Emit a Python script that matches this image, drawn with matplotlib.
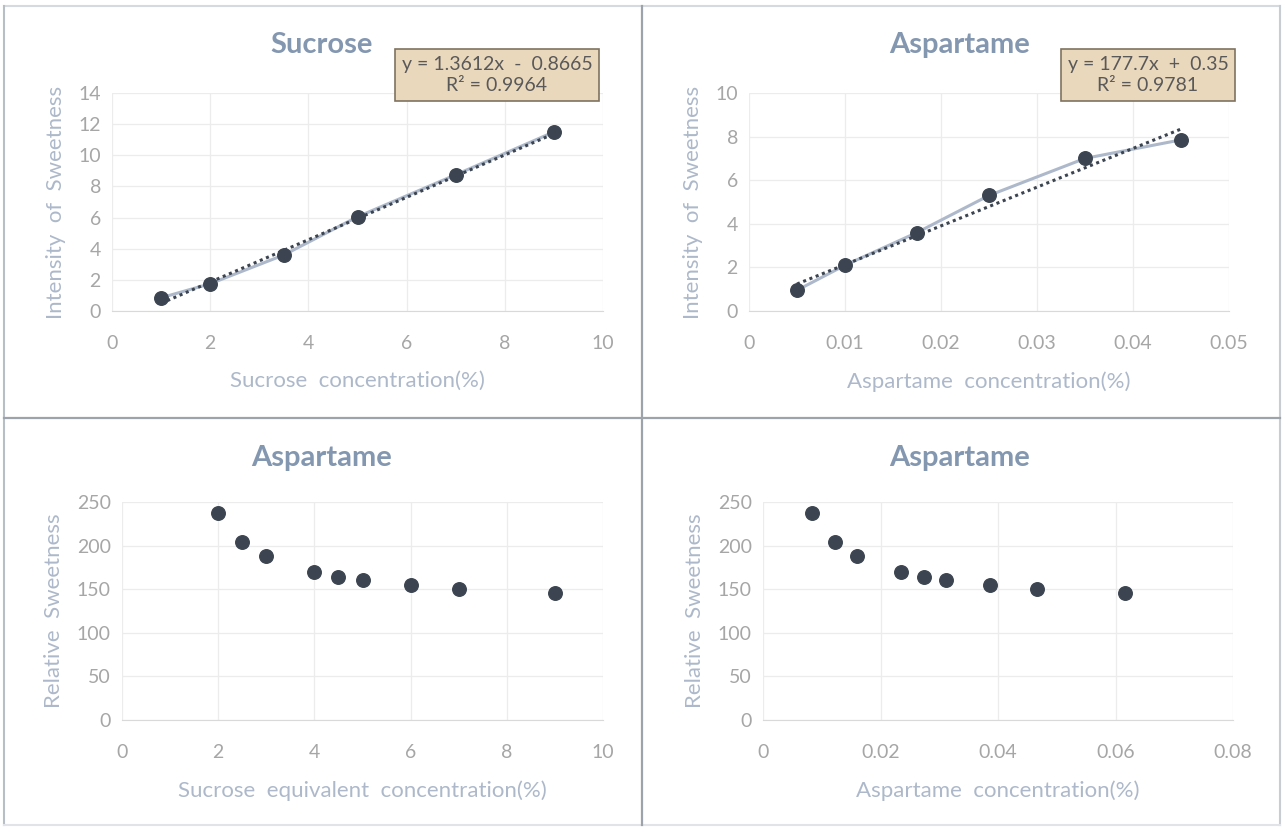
import numpy as np
import matplotlib.pyplot as plt
from matplotlib.lines import Line2D

plt.rcParams['font.family'] = ['Lato', 'DejaVu Sans']

# sucrose: concentration vs intensity
suc_conc = [1, 2, 3.5, 5, 7, 9]
suc_int = [0.85, 1.75, 3.6, 6.05, 8.75, 11.5]
suc_slope, suc_icpt, suc_r2 = 1.3612, -0.8665, 0.9964

# aspartame: concentration vs intensity
asp_conc = [0.005, 0.01, 0.0175, 0.025, 0.035, 0.045]
asp_int = [0.95, 2.1, 3.6, 5.3, 7.0, 7.85]
asp_slope, asp_icpt, asp_r2 = 177.7, 0.35, 0.9781

# relative sweetness of aspartame
suc_equiv = [2, 2.5, 3, 4, 4.5, 5, 6, 7, 9]
asp_conc2 = [0.0084, 0.0122, 0.016, 0.0235, 0.0274, 0.0311, 0.0387, 0.0467, 0.0616]
rel_sweet = [237, 204, 188, 170, 164, 161, 155, 150, 146]

TITLE_C = '#8497B0'
TICK_C = '#A6A6A6'
LABEL_C = '#ADB9CA'
DOT_C = '#3B4450'
LINE_C = '#ADB9CA'
GRID_C = '#ECECEC'

W, H = 1283, 827
fig = plt.figure(figsize=(W / 100, H / 100), dpi=100)


def px_axes(x0, x1, y_top, y_bot):
    return fig.add_axes([x0 / W, 1 - y_bot / H, (x1 - x0) / W, (y_bot - y_top) / H])


def style(ax, xlim, xticks, xtl, ylim, yticks, ytl, xlabel, ylabel, title, tx, ty):
    ax.set_xlim(xlim)
    ax.set_ylim(ylim)
    ax.set_xticks(xticks)
    ax.set_xticklabels(xtl)
    ax.set_yticks(yticks)
    ax.set_yticklabels(ytl)
    ax.grid(True, color=GRID_C, linewidth=0.9)
    ax.set_axisbelow(True)
    for s in ['top', 'right', 'left']:
        ax.spines[s].set_visible(False)
    ax.spines['bottom'].set_color('#D9D9D9')
    ax.tick_params(length=0, labelsize=14, colors=TICK_C, pad=17)
    ax.tick_params(axis='y', pad=8)
    ax.set_xlabel(xlabel, fontsize=16, color=LABEL_C, labelpad=14)
    ax.set_ylabel(ylabel, fontsize=16, color=LABEL_C, labelpad=9)
    fig.text(tx / W, 1 - ty / H, title, fontsize=21, fontweight='bold',
             color=TITLE_C, ha='center', va='center')


def eq_box(x, y, slope, icpt, r2, fmt):
    sign = '-' if icpt < 0 else '+'
    txt = ('y = ' + fmt[0].format(slope) + 'x  ' + sign + '  ' + fmt[1].format(abs(icpt))
           + '\nR² = ' + '{:.4f}'.format(r2))
    fig.text(x / W, 1 - y / H, txt, fontsize=14, color='#595959', ha='center', va='center',
             linespacing=1.35,
             bbox=dict(boxstyle='square,pad=0.32', fc='#EAD8BD', ec='#7F7360', lw=1.2))


# top left: sucrose
ax1 = px_axes(112, 603, 93, 311)
style(ax1, (0, 10), range(0, 11, 2), ['0', '2', '4', '6', '8', '10'],
      (0, 14), range(0, 15, 2), [str(v) for v in range(0, 15, 2)],
      'Sucrose  concentration(%)', 'Intensity  of  Sweetness', 'Sucrose', 322, 45)
ax1.plot(suc_conc, suc_int, color=LINE_C, lw=2.2, zorder=2)
xs = np.array([suc_conc[0], suc_conc[-1]])
ax1.plot(xs, suc_slope * xs + suc_icpt, color=DOT_C, lw=2.2, ls=(0, (1, 1.2)), zorder=3)
ax1.scatter(suc_conc, suc_int, s=95, color=DOT_C, zorder=4)
eq_box(497, 75, suc_slope, suc_icpt, suc_r2, ('{:.4f}', '{:.4f}'))

# top right: aspartame
ax2 = px_axes(749, 1229, 93, 311)
style(ax2, (0, 0.05), np.arange(0, 0.051, 0.01), ['0', '0.01', '0.02', '0.03', '0.04', '0.05'],
      (0, 10), range(0, 11, 2), [str(v) for v in range(0, 11, 2)],
      'Aspartame  concentration(%)', 'Intensity  of  Sweetness', 'Aspartame', 960, 45)
ax2.plot(asp_conc, asp_int, color=LINE_C, lw=2.2, zorder=2)
xs = np.array([asp_conc[0], asp_conc[-1]])
ax2.plot(xs, asp_slope * xs + asp_icpt, color=DOT_C, lw=2.2, ls=(0, (1, 1.2)), zorder=3)
ax2.scatter(asp_conc, asp_int, s=95, color=DOT_C, zorder=4)
eq_box(1148, 75, asp_slope, asp_icpt, asp_r2, ('{:.1f}', '{:.2f}'))

# bottom left: relative sweetness vs sucrose equivalent
ax3 = px_axes(122, 603, 502, 720)
style(ax3, (0, 10), range(0, 11, 2), ['0', '2', '4', '6', '8', '10'],
      (0, 250), range(0, 251, 50), [str(v) for v in range(0, 251, 50)],
      'Sucrose  equivalent  concentration(%)', 'Relative  Sweetness', 'Aspartame', 322, 458)
ax3.scatter(suc_equiv, rel_sweet, s=95, color=DOT_C, zorder=4)

# bottom right: relative sweetness vs aspartame concentration
ax4 = px_axes(763, 1233, 502, 720)
style(ax4, (0, 0.08), np.arange(0, 0.081, 0.02), ['0', '0.02', '0.04', '0.06', '0.08'],
      (0, 250), range(0, 251, 50), [str(v) for v in range(0, 251, 50)],
      'Aspartame  concentration(%)', 'Relative  Sweetness', 'Aspartame', 960, 458)
ax4.scatter(asp_conc2, rel_sweet, s=95, color=DOT_C, zorder=4)

# panel frame and dividers
def fline(xa, ya, xb, yb, c, lw):
    fig.add_artist(Line2D([xa / W, xb / W], [1 - ya / H, 1 - yb / H], color=c, lw=lw))

fline(4, 6, 1280, 6, '#D5DAE0', 1.5)
fline(4, 6, 4, 825, '#B8BEC6', 1.5)
fline(1280, 6, 1280, 825, '#C8CDD3', 1.5)
fline(4, 825, 1280, 825, '#E0E3E7', 1.5)
fline(642, 6, 642, 825, '#9DA3AB', 1.6)
fline(4, 418, 1280, 418, '#9DA3AB', 1.6)

fig.savefig('out.png', dpi=100)
